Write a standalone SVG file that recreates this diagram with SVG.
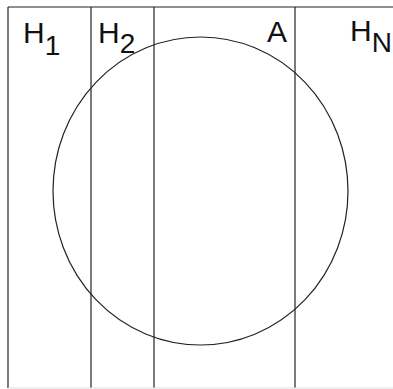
<svg xmlns="http://www.w3.org/2000/svg" width="393" height="389" viewBox="0 0 393 389">
<style>
.ln{stroke:#222;stroke-width:1.2;fill:none}
.t{font-family:"Liberation Sans",Arial,sans-serif;font-size:30px;fill:#111}
.s{font-size:28px}
</style>
<rect width="393" height="389" fill="#fff"/>
<g id="connectors">
<line class="ln" x1="8" y1="7" x2="393" y2="7"/>
<line class="ln" x1="8" y1="7" x2="8" y2="388"/>
<line class="ln" x1="91" y1="7" x2="91" y2="388"/>
<line class="ln" x1="154" y1="7" x2="154" y2="388"/>
<line class="ln" x1="295" y1="7" x2="295" y2="388"/>
<line x1="8" y1="388" x2="393" y2="388" stroke="#ddd" stroke-width="1"/>
</g>
<g id="circle"><ellipse class="ln" cx="200.5" cy="191" rx="147.5" ry="154"/></g>
<g id="H1"><text class="t" x="23" y="43">H<tspan class="s" dy="12">1</tspan></text></g>
<g id="H2"><text class="t" x="98" y="43">H<tspan class="s" dy="10">2</tspan></text></g>
<g id="A"><text class="t" x="267" y="42">A</text></g>
<g id="HN"><text class="t" x="350" y="41">H<tspan class="s" dy="11">N</tspan></text></g>
</svg>
